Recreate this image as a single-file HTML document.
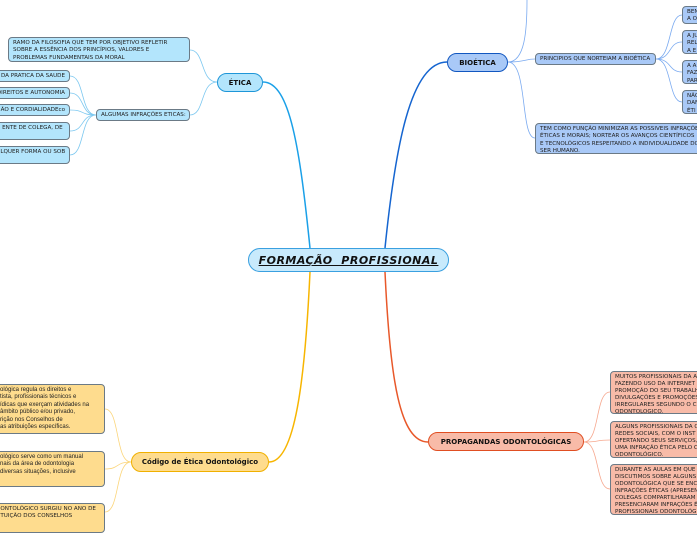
<!DOCTYPE html>
<html><head><meta charset="utf-8"><style>
html,body{margin:0;padding:0}
body{width:697px;height:520px;position:relative;overflow:hidden;background:#fff;font-family:"DejaVu Sans","Liberation Sans",sans-serif}
.b{position:absolute;box-sizing:border-box;border-radius:4px;font-size:5.6px;line-height:7.4px;padding:2px 4px;white-space:nowrap;overflow:hidden;border:1px solid #6b7a86;color:#222}
.lb{background:#b3e5fc}
.bb{background:#a9c9f7}
.yb{background:#fedc8e}
.sb{background:#f8bba8;line-height:7px}
.m{position:absolute;box-sizing:border-box;border-radius:10px;font-weight:bold;display:flex;align-items:center;justify-content:center;color:#111}
</style></head><body>
<svg width="697" height="520" style="position:absolute;left:0;top:0" fill="none">
<path d="M310 248 C300 150 290 82 263 82" stroke="#1aa0e8" stroke-width="1.5"/>
<path d="M385 248 C395 150 410 62 447 62" stroke="#1565d0" stroke-width="1.5"/>
<path d="M310 272 C305 380 295 462 269 462" stroke="#f7b500" stroke-width="1.5"/>
<path d="M385 272 C390 380 400 442 428 442" stroke="#e8582a" stroke-width="1.5"/>
<g stroke="#7cc8f0" stroke-width="0.8">
<path d="M217 82 C200 82 205 50 190 50"/>
<path d="M217 82 C200 82 205 115 190 115"/>
<path d="M96 115 C80 115 85 76 70 76"/>
<path d="M96 115 C80 115 85 93 70 93"/>
<path d="M96 115 C80 115 85 110 70 110"/>
<path d="M96 115 C80 115 85 131 70 131"/>
<path d="M96 115 C80 115 85 155 70 155"/>
</g>
<g stroke="#7aaaf0" stroke-width="0.8">
<path d="M508 62 C525 62 527 30 527 0"/>
<path d="M508 62 C525 62 525 59 535 59"/>
<path d="M508 62 C528 62 520 138 535 138"/>
<path d="M656 59 C672 59 668 15 682 15"/>
<path d="M656 59 C672 59 668 42 682 42"/>
<path d="M656 59 C672 59 668 72 682 72"/>
<path d="M656 59 C672 59 668 102 682 102"/>
</g>
<g stroke="#fbd57a" stroke-width="0.8">
<path d="M131 462 C115 462 120 409 105 409"/>
<path d="M131 462 C115 462 120 469 105 469"/>
<path d="M131 462 C115 462 120 512 105 512"/>
</g>
<g stroke="#f6a88f" stroke-width="0.8">
<path d="M584 442 C600 442 595 392 610 392"/>
<path d="M584 442 C600 442 595 440 610 440"/>
<path d="M584 442 C600 442 595 489 610 489"/>
</g>
</svg>

<div class="m" style="left:248px;top:248px;width:201px;height:24px;background:#c8eafc;border:1px solid #3aa0e0;border-radius:12px;font-size:11px;font-style:italic;text-decoration:underline;letter-spacing:0.5px">FORMAÇÃO&nbsp; PROFISSIONAL</div>

<div class="m" style="left:217px;top:73px;width:46px;height:19px;background:#b3e5fc;border:1.5px solid #1e96d8;font-size:7px">ÉTICA</div>
<div class="b lb" style="left:8px;top:37px;width:182px;height:25px">RAMO DA FILOSOFIA QUE TEM POR OBJETIVO REFLETIR<br>SOBRE A ESSÊNCIA DOS PRINCÍPIOS, VALORES E<br>PROBLEMAS FUNDAMENTAIS DA MORAL</div>
<div class="b lb" style="left:96px;top:109px;width:94px;height:12px;padding-top:1.5px">ALGUMAS INFRAÇÕES ETICAS:</div>
<div class="b lb" style="left:-10px;top:70px;width:80px;height:12px;text-align:right;padding-top:1.5px">DA PRATICA DA SAUDE</div>
<div class="b lb" style="left:-10px;top:87px;width:80px;height:12px;text-align:right;padding-top:1.5px">DIREITOS E AUTONOMIA</div>
<div class="b lb" style="left:-10px;top:104px;width:80px;height:12px;text-align:right;padding-top:1.5px">ÃO E CORDIALIDADEco</div>
<div class="b lb" style="left:-10px;top:122px;width:80px;height:18px">&nbsp;&nbsp;&nbsp;&nbsp;ENTE DE COLEGA, DE</div>
<div class="b lb" style="left:-10px;top:146px;width:80px;height:18px">&nbsp;&nbsp;&nbsp;LQUER FORMA OU SOB</div>

<div class="m" style="left:447px;top:53px;width:61px;height:19px;background:#a9c9f7;border:1.5px solid #1257c0;font-size:7px">BIOÉTICA</div>
<div class="b bb" style="left:535px;top:53px;width:121px;height:12px;padding-top:1.5px">PRINCIPIOS QUE NORTEIAM A BIOÉTICA</div>
<div class="b bb" style="left:682px;top:6px;width:30px;height:18px">BEN<br>A O</div>
<div class="b bb" style="left:682px;top:30px;width:30px;height:24px">A JU<br>REL<br>A E</div>
<div class="b bb" style="left:682px;top:60px;width:30px;height:24px">A A<br>FAZ<br>PAR</div>
<div class="b bb" style="left:682px;top:90px;width:30px;height:24px">NÃO<br>DAN<br>ÉTI</div>
<div class="b bb" style="left:535px;top:123px;width:175px;height:31px">TEM COMO FUNÇÃO MINIMIZAR AS POSSIVEIS INFRAÇÕES<br>ÉTICAS E MORAIS; NORTEAR OS AVANÇOS CIENTÍFICOS<br>E TECNOLÓGICOS RESPEITANDO A INDIVIDUALIDADE DO<br>SER HUMANO.</div>

<div class="m" style="left:131px;top:452px;width:138px;height:20px;background:#fedc8e;border:1.5px solid #f0b000;font-size:7px">Código de Ética Odontológico</div>
<div class="b yb" style="left:-10px;top:384px;width:115px;height:50px;font-family:'Liberation Sans',sans-serif;font-size:6px">&nbsp;&nbsp;&nbsp;ológica regula os direitos e<br>&nbsp;&nbsp;&nbsp;tista, profissionais técnicos e<br>&nbsp;&nbsp;&nbsp;ídicas que exerçam atividades na<br>&nbsp;&nbsp;&nbsp;âmbito público e/ou privado,<br>&nbsp;&nbsp;&nbsp;rição nos Conselhos de<br>&nbsp;&nbsp;&nbsp;as atribuições específicas.</div>
<div class="b yb" style="left:-10px;top:451px;width:115px;height:36px;font-family:'Liberation Sans',sans-serif;font-size:6px">&nbsp;&nbsp;&nbsp;ológico serve como um manual<br>&nbsp;&nbsp;&nbsp;nais da área de odontologia<br>&nbsp;&nbsp;&nbsp;diversas situações, inclusive</div>
<div class="b yb" style="left:-10px;top:503px;width:115px;height:30px">&nbsp;&nbsp;&nbsp;ONTOLÓGICO SURGIU NO ANO DE<br>&nbsp;&nbsp;&nbsp;TUIÇÃO DOS CONSELHOS</div>

<div class="m" style="left:428px;top:432px;width:156px;height:19px;background:#f8bba8;border:1.5px solid #e04e22;font-size:7px">PROPAGANDAS ODONTOLÓGICAS</div>
<div class="b sb" style="left:610px;top:371px;width:100px;height:43px">MUITOS PROFISSIONAIS DA A<br>FAZENDO USO DA INTERNET<br>PROMOÇÃO DO SEU TRABALH<br>DIVULGAÇÕES E PROMOÇÕES<br>IRREGULARES SEGUNDO O C<br>ODONTOLOGICO.</div>
<div class="b sb" style="left:610px;top:421px;width:100px;height:37px">ALGUNS PROFISSIONAIS DA O<br>REDES SOCIAIS, COM O INST<br>OFERTANDO SEUS SERVIÇOS,<br>UMA INFRAÇÃO ÉTICA PELO C<br>ODONTOLÓGICO.</div>
<div class="b sb" style="left:610px;top:464px;width:100px;height:51px">DURANTE AS AULAS EM QUE<br>DISCUTIMOS SOBRE ALGUNS<br>ODONTOLÓGICA QUE SE ENC<br>INFRAÇÕES ÉTICAS (APRESEN<br>COLEGAS COMPARTILHARAM<br>PRESENCIARAM INFRAÇÕES É<br>PROFISSIONAIS ODONTOLÓG</div>
</body></html>
